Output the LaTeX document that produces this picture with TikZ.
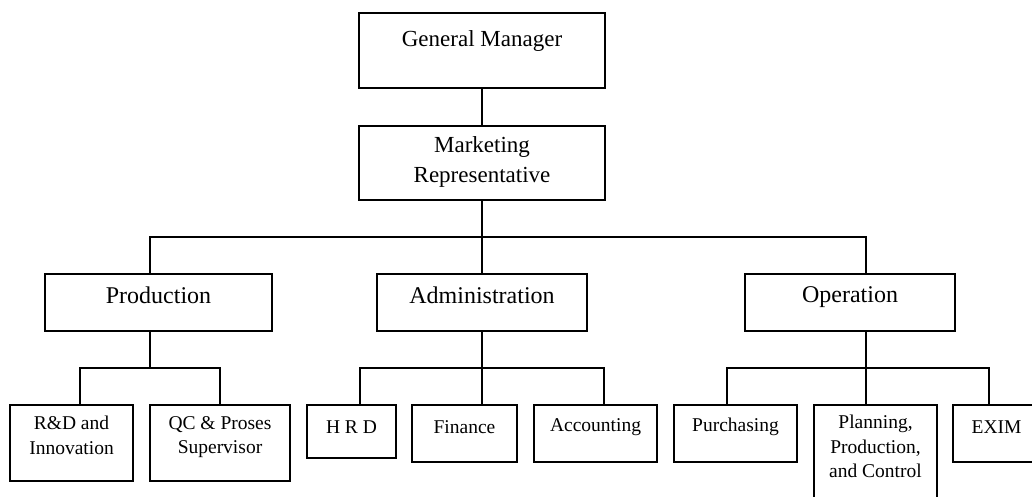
\documentclass[tikz,border=0pt]{standalone}
\usepackage{fontspec}
\setmainfont{Liberation Serif}
\usetikzlibrary{positioning}
\tikzset{
  unit/.style={draw,line width=1.5pt,inner sep=0pt},
  ttl/.style={inner sep=0pt,align=center},
  ttop/.style={ttl,font=\fontsize{23}{30}\selectfont},
  tmid/.style={ttl,font=\fontsize{24}{30}\selectfont},
  tlow/.style={ttl,font=\fontsize{19.5}{24.5}\selectfont},
  link/.style={line width=1.1pt},
}

\begin{document}
\begin{tikzpicture}[x=1pt,y=-1pt]
  \useasboundingbox (0,0) rectangle (1032,496);
  \clip (0,0) rectangle (1032,496);
  % top level
  \node[unit,minimum width=246pt,minimum height=75pt] (gm) at (482,50.5) {};
  \node[ttop,below=18pt of gm.north] (gmt) {General Manager};
  \node[unit,minimum width=246pt,minimum height=74pt] (mr) at (482,163) {};
  \node[ttop,below=11pt of mr.north] (mrt) {Marketing\\Representative};
  % departments
  \node[unit,minimum width=227pt,minimum height=57pt] (prod) at (158.5,302.5) {};
  \node[tmid,below=13pt of prod.north] (prodt) {Production};
  \node[unit,minimum width=210pt,minimum height=57pt] (adm) at (482,302.5) {};
  \node[tmid,below=13pt of adm.north] (admt) {Administration};
  \node[unit,minimum width=210pt,minimum height=57pt] (oper) at (850,302.5) {};
  \node[tmid,below=13pt of oper.north] (opert) {Operation};
  % sections
  \node[unit,minimum width=123pt,minimum height=76pt] (rd) at (71.5,443) {};
  \node[tlow,below=12pt of rd.north] (rdt) {R\&D and\\Innovation};
  \node[unit,minimum width=140pt,minimum height=76pt] (qc) at (220,443) {};
  \node[tlow,below=12pt of qc.north] (qct) {QC \& Proses\\Supervisor};
  \node[unit,minimum width=89pt,minimum height=53pt] (hrd) at (351.5,431.5) {};
  \node[tlow,below=16pt of hrd.north] (hrdt) {H R D};
  \node[unit,minimum width=105pt,minimum height=57pt] (fin) at (464.5,433.5) {};
  \node[tlow,below=16pt of fin.north] (fint) {Finance};
  \node[unit,minimum width=123pt,minimum height=57pt] (acc) at (595.5,433.5) {};
  \node[tlow,below=14pt of acc.north] (acct) {Accounting};
  \node[unit,minimum width=123pt,minimum height=57pt] (pur) at (735.5,433.5) {};
  \node[tlow,below=14pt of pur.north] (purt) {Purchasing};
  \node[unit,minimum width=123pt,minimum height=120pt] (pln) at (875.5,465) {};
  \node[tlow,below=11pt of pln.north] (plnt) {Planning,\\Production,\\and Control};
  \node[unit,minimum width=87pt,minimum height=57pt] (exim) at (996.5,433.5) {};
  \node[tlow,below=16pt of exim.north] (eximt) {EXIM};
  % buses
  \coordinate (bus1) at (482,237);
  \coordinate (bus2) at (150,368);
  \coordinate (bus3) at (482,368);
  \coordinate (bus4) at (866,368);
  % links
  \draw[link] (gm) -- (mr);
  \draw[link] (mr.south) -- (bus1);
  \draw[link] ([xshift=-8.5pt]prod.north) |- (bus1) -| ([xshift=16pt]oper.north);
  \draw[link] (bus1) -- (adm.north);
  \draw[link] ([xshift=-8.5pt]prod.south) -- (bus2);
  \draw[link] ([xshift=8.5pt]rd.north) |- (bus2) -| (qc.north);
  \draw[link] (adm.south) -- (bus3);
  \draw[link] ([xshift=8.5pt]hrd.north) |- (bus3) -| ([xshift=8.5pt]acc.north);
  \draw[link] (bus3) -- ([xshift=17.5pt]fin.north);
  \draw[link] ([xshift=16pt]oper.south) -- (bus4);
  \draw[link] ([xshift=-8.5pt]pur.north) |- (bus4) -| ([xshift=-7.5pt]exim.north);
  \draw[link] (bus4) -- ([xshift=-9.5pt]pln.north);
\end{tikzpicture}
\end{document}
